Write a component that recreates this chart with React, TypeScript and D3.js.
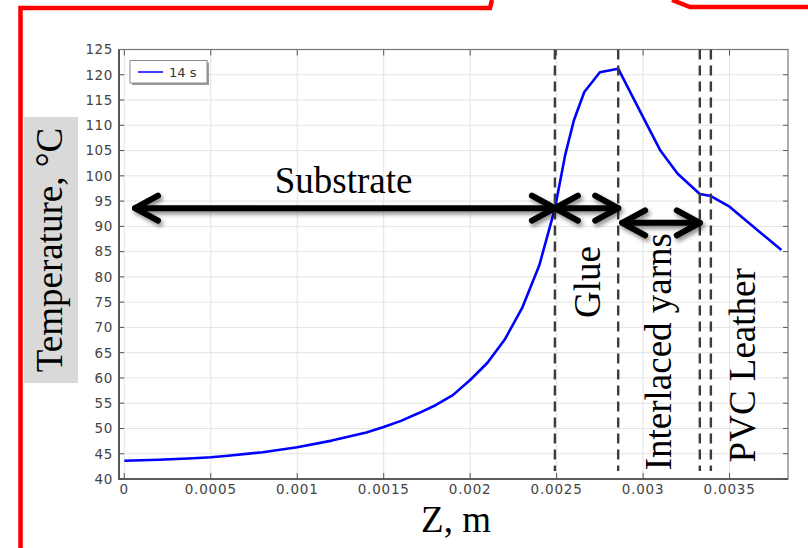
import React from "react";
import * as d3 from "d3";

const zValues = [0, 0.0002, 0.0004, 0.0005, 0.0006, 0.0008, 0.001, 0.0012, 0.0014, 0.0015, 0.0016, 0.0017, 0.0018, 0.0019, 0.002, 0.0021, 0.0022, 0.0023, 0.0024, 0.00249, 0.00255, 0.0026, 0.00266, 0.00275, 0.002856, 0.003, 0.0031, 0.0032, 0.003328, 0.003392, 0.0035, 0.0036, 0.0038];
const tValues = [43.6, 43.8, 44.1, 44.3, 44.6, 45.3, 46.3, 47.6, 49.2, 50.3, 51.5, 53.0, 54.6, 56.6, 59.6, 63.0, 67.6, 73.8, 82.3, 93.5, 104.2, 111.0, 116.6, 120.5, 121.2, 111.6, 105.0, 100.4, 96.4, 96.0, 93.9, 91.0, 85.3];
const xTicks = [0, 0.0005, 0.001, 0.0015, 0.002, 0.0025, 0.003, 0.0035];
const yTicks = [40, 45, 50, 55, 60, 65, 70, 75, 80, 85, 90, 95, 100, 105, 110, 115, 120, 125];
const layerBounds = [0.00249, 0.002856, 0.003328, 0.003392];
const arrows = [
  { x0: 0.000062, x1: 0.00249, t: 93.6 },
  { x0: 0.00249, x1: 0.002856, t: 93.6 },
  { x0: 0.002879, x1: 0.003328, t: 90.7 },
];
const legendLabel = "14 s";
const seriesColor = "#0000ff";

export default function App() {
  const W = 808, H = 548;
  const x = d3.scaleLinear().domain([-0.0000307, 0.003838]).range([119, 788]);
  const y = d3.scaleLinear().domain([40, 125]).range([479, 49.5]);
  const [x0, x1] = x.range();
  const [yb, yt] = y.range();
  const line = d3.line<number>().x((_, i) => x(zValues[i])).y((d) => y(d));
  const fmt = (v: number) => String(+v.toFixed(4));
  const tickFont = "'DejaVu Sans', Verdana, sans-serif";
  const serif = "'Liberation Serif', 'Times New Roman', serif";

  const chevron = (tx: number, ty: number, dir: number) =>
    `M${tx + dir * 23},${ty - 12.5}L${tx},${ty}L${tx + dir * 23},${ty + 12.5}`;

  return (
    <svg width={W} height={H} style={{ position: "absolute", left: 0, top: 0, background: "#fff" }}>
      <defs>
        <filter id="sh" x="-20%" y="-50%" width="140%" height="200%">
          <feDropShadow dx="2" dy="3" stdDeviation="2" floodColor="#000" floodOpacity="0.45" />
        </filter>
        <clipPath id="plot">
          <rect x={x0} y={yt} width={x1 - x0} height={yb - yt} />
        </clipPath>
      </defs>
      {/* red frame pieces */}
      <path d="M20.5,548L20.5,8L490,8L492,0" fill="none" stroke="#ff0000" strokeWidth={4.5} />
      <path d="M672,0L690,7L808,7" fill="none" stroke="#ff0000" strokeWidth={4.5} />

      {/* grid */}
      {xTicks.map((v) => (
        <line key={"gx" + v} x1={x(v)} x2={x(v)} y1={yt} y2={yb} stroke="#e3e3e3" strokeWidth={1} />
      ))}
      {yTicks.map((v) => (
        <line key={"gy" + v} x1={x0} x2={x1} y1={y(v)} y2={y(v)} stroke="#e3e3e3" strokeWidth={1} />
      ))}
      {/* ticks inward on all sides */}
      {xTicks.map((v) => (
        <g key={"tx" + v} stroke="#555" strokeWidth={1}>
          <line x1={x(v)} x2={x(v)} y1={yb} y2={yb - 6} />
          <line x1={x(v)} x2={x(v)} y1={yt} y2={yt + 6} />
        </g>
      ))}
      {yTicks.map((v) => (
        <g key={"ty" + v} stroke="#555" strokeWidth={1}>
          <line x1={x0} x2={x0 + 5} y1={y(v)} y2={y(v)} />
          <line x1={x1} x2={x1 - 5} y1={y(v)} y2={y(v)} />
        </g>
      ))}
      {/* frame */}
      <rect x={x0} y={yt} width={x1 - x0} height={yb - yt} fill="none" stroke="#777" strokeWidth={1.2} />
      <path d={`M${x0},${yt}L${x0},${yb}L${x1},${yb}`} fill="none" stroke="#444" strokeWidth={1.6} />

      {/* tick labels */}
      {xTicks.map((v) => (
        <text key={"lx" + v} x={x(v)} y={494} textAnchor="middle" fontFamily={tickFont} fontSize={13.5} fill="#444" letterSpacing={0.8}>
          {fmt(v)}
        </text>
      ))}
      {yTicks.map((v) => (
        <text key={"ly" + v} x={113} y={y(v)} dy="0.36em" textAnchor="end" fontFamily={tickFont} fontSize={13.5} fill="#444" letterSpacing={0.6}>
          {v}
        </text>
      ))}

      {/* curve */}
      <path d={line(tValues) || ""} fill="none" stroke={seriesColor} strokeWidth={2.6} strokeLinejoin="round" clipPath="url(#plot)" />

      {/* dashed layer boundaries */}
      {layerBounds.map((v) => (
        <line key={"d" + v} x1={x(v)} x2={x(v)} y1={yt} y2={471} stroke="#3c3c3c" strokeWidth={2.4} strokeDasharray="10,6" />
      ))}

      {/* legend */}
      <rect x={132} y={62.5} width={77} height={22.5} fill="#9a9a9a" />
      <rect x={130} y={60.5} width={77} height={22.5} fill="#fff" stroke="#8a8a8a" strokeWidth={1} />
      <line x1={138} x2={163} y1={72} y2={72} stroke={seriesColor} strokeWidth={1.5} />
      <text x={169} y={76.5} fontFamily={tickFont} fontSize={13} fill="#333">
        {legendLabel}
      </text>

      {/* arrows */}
      <g filter="url(#sh)" stroke="#000" strokeWidth={6} strokeLinecap="round" strokeLinejoin="round" fill="none">
        {arrows.map((a, i) => {
          const ax0 = x(a.x0), ax1 = x(a.x1), ay = y(a.t);
          return (
            <g key={"a" + i}>
              <line x1={ax0} x2={ax1} y1={ay} y2={ay} />
              <path d={chevron(ax0, ay, 1)} />
              <path d={chevron(ax1, ay, -1)} />
            </g>
          );
        })}
      </g>

      {/* annotations */}
      <text x={x(0.001268)} y={y(96.6)} textAnchor="middle" fontFamily={serif} fontSize={37} fill="#000">
        Substrate
      </text>
      <text transform={`translate(${x(0.00275)},${y(79)}) rotate(-90)`} textAnchor="middle" fontFamily={serif} fontSize={37} fill="#000">
        Glue
      </text>
      <text transform={`translate(${x(0.003162)},${y(65.2)}) rotate(-90)`} textAnchor="middle" fontFamily={serif} fontSize={37} fill="#000">
        Interlaced yarns
      </text>
      <text transform={`translate(${x(0.003648)},${y(62.5)}) rotate(-90)`} textAnchor="middle" fontFamily={serif} fontSize={37} fill="#000">
        PVC Leather
      </text>

      {/* axis titles */}
      <rect x={24} y={117} width={54} height={266} fill="#d9d9d9" />
      <text transform="translate(62,250) rotate(-90)" textAnchor="middle" fontFamily={serif} fontSize={37} fill="#000">
        Temperature, °C
      </text>
      <text x={456} y={532} textAnchor="middle" fontFamily={serif} fontSize={37} fill="#000">
        Z, m
      </text>
    </svg>
  );
}
